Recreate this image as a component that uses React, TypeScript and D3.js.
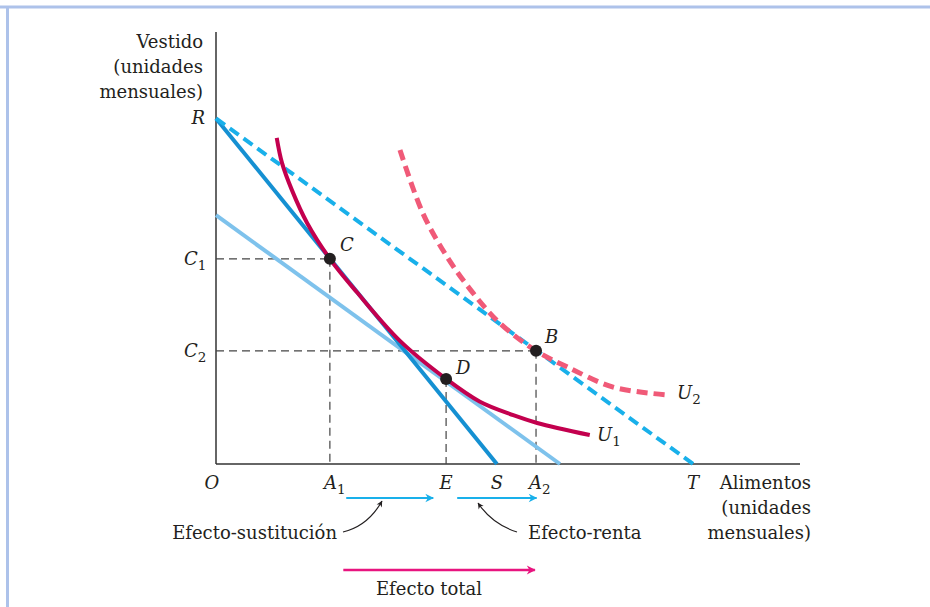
// @ts-nocheck
import React from "react";
import { scaleLinear, line, curveCatmullRom } from "d3";

// budget lines (x / y intercepts, food vs clothing units)
const interceptR = 80;
const interceptS = 48.1;
const interceptT = 81.7;
const lightLine = { y0: 57.6, x0: 58.9 };

// optimum points
const pointC = { x: 19.5, y: 47.5 };
const pointD = { x: 39.4, y: 19.7 };
const pointB = { x: 54.8, y: 26.2 };

// indifference curves
const curveU1 = [
  [10.4, 75.5], [11.3, 69.7], [13.0, 63.4], [15.6, 55.8], [19.5, 47.5],
  [24.1, 39.8], [31.5, 28.5], [39.4, 19.7], [45.2, 14.4], [50.9, 11.3],
  [55.0, 9.5], [64.0, 6.7],
];
const curveU2 = [
  [31.5, 72.7], [35.4, 58.1], [39.6, 47.9], [44.0, 39.6], [48.6, 32.6],
  [54.8, 26.2], [60.1, 22.5], [68.0, 17.8], [77.2, 16.0],
];

// effect arrows (x extents)
const subArrow = [22.3, 37.2];
const incArrow = [41.3, 54.9];
const totalArrow = [21.8, 54.6];

const W = 930;
const H = 607;
const serif = "'DejaVu Serif', serif";
const fs = 18;

export default function App() {
  const x = scaleLinear().domain([0, 100]).range([216, 800]);
  const y = scaleLinear().domain([0, 100]).range([464, 32]);
  const path = line()
    .x((d) => x(d[0]))
    .y((d) => y(d[1]))
    .curve(curveCatmullRom.alpha(0.5));

  const axisY = y(0);
  const italic = { fontFamily: serif, fontStyle: "italic", fontSize: fs, fill: "#231f20" };
  const roman = { fontFamily: serif, fontSize: fs, fill: "#231f20" };
  const sub = (t) => (
    <tspan fontStyle="normal" fontSize={13.5} dy={5}>{t}</tspan>
  );

  return (
    <svg width={W} height={H} style={{ position: "absolute", left: 0, top: 0, background: "#fff" }}>
      <defs>
        <marker id="blueHead" viewBox="0 0 10 10" refX={9} refY={5} markerWidth={5} markerHeight={5} orient="auto" markerUnits="userSpaceOnUse" style={{ overflow: "visible" }}>
          <path d="M0,0 L10,5 L0,10 L3,5 Z" fill="#19b0ea" transform="scale(1.7) translate(-4,-2)" />
        </marker>
        <marker id="pinkHead" viewBox="0 0 10 10" refX={9} refY={5} markerWidth={5} markerHeight={5} orient="auto" markerUnits="userSpaceOnUse" style={{ overflow: "visible" }}>
          <path d="M0,0 L10,5 L0,10 L3,5 Z" fill="#e8147f" transform="scale(1.8) translate(-4,-2.2)" />
        </marker>
        <marker id="blackHead" viewBox="0 0 10 10" refX={9} refY={5} markerWidth={5} markerHeight={5} orient="auto" markerUnits="userSpaceOnUse" style={{ overflow: "visible" }}>
          <path d="M0,0 L10,5 L0,10 L3,5 Z" fill="#231f20" transform="scale(1.2) translate(-2,-0.8)" />
        </marker>
      </defs>

      {/* frame */}
      <line x1={0} x2={W} y1={7} y2={7} stroke="#adc2ea" strokeWidth={3} />
      <line x1={7.5} x2={7.5} y1={6} y2={H} stroke="#adc2ea" strokeWidth={3} />

      {/* axes */}
      <line x1={x(0)} x2={x(0)} y1={y(100)} y2={axisY} stroke="#333" strokeWidth={1.5} />
      <line x1={x(0)} x2={x(100)} y1={axisY} y2={axisY} stroke="#333" strokeWidth={1.5} />

      {/* guide lines */}
      <g stroke="#444" strokeWidth={1.2} strokeDasharray="8,5" fill="none">
        <line x1={x(0)} x2={x(pointC.x)} y1={y(pointC.y)} y2={y(pointC.y)} />
        <line x1={x(pointC.x)} x2={x(pointC.x)} y1={y(pointC.y)} y2={axisY} />
        <line x1={x(0)} x2={x(pointB.x)} y1={y(pointB.y)} y2={y(pointB.y)} />
        <line x1={x(pointB.x)} x2={x(pointB.x)} y1={y(pointB.y)} y2={axisY} />
        <line x1={x(pointD.x)} x2={x(pointD.x)} y1={y(pointD.y)} y2={axisY} />
      </g>

      {/* budget lines */}
      <line x1={x(0)} y1={y(lightLine.y0)} x2={x(lightLine.x0)} y2={y(0)} stroke="#7ec2ec" strokeWidth={4} />
      <line x1={x(0)} y1={y(interceptR)} x2={x(interceptS)} y2={y(0)} stroke="#1590d2" strokeWidth={4} />
      <line x1={x(0)} y1={y(interceptR)} x2={x(interceptT)} y2={y(0)} stroke="#19b0ea" strokeWidth={4} strokeDasharray="11,6" />

      {/* indifference curves */}
      <path d={path(curveU2)} fill="none" stroke="#f05a78" strokeWidth={5} strokeDasharray="11,6" />
      <path d={path(curveU1)} fill="none" stroke="#c3004e" strokeWidth={4} />

      {/* points */}
      {[pointC, pointD, pointB].map((p, i) => (
        <circle key={i} cx={x(p.x)} cy={y(p.y)} r={6} fill="#231f20" />
      ))}

      {/* axis titles */}
      <g style={roman} textAnchor="end">
        <text x={203} y={48}>Vestido</text>
        <text x={203} y={73}>(unidades</text>
        <text x={203} y={98}>mensuales)</text>
        <text x={811} y={489}>Alimentos</text>
        <text x={811} y={514}>(unidades</text>
        <text x={811} y={539}>mensuales)</text>
      </g>

      {/* point labels */}
      <g style={italic}>
        <text x={205} y={124} textAnchor="end">R</text>
        <text x={184} y={265}>C{sub("1")}</text>
        <text x={184} y={357}>C{sub("2")}</text>
        <text x={212} y={489} textAnchor="middle">O</text>
        <text x={324} y={489}>A{sub("1")}</text>
        <text x={x(pointD.x)} y={489} textAnchor="middle">E</text>
        <text x={x(interceptS)} y={489} textAnchor="middle">S</text>
        <text x={529} y={489}>A{sub("2")}</text>
        <text x={x(interceptT)} y={489} textAnchor="middle">T</text>
        <text x={x(pointC.x) + 10} y={y(pointC.y) - 8}>C</text>
        <text x={x(pointD.x) + 10} y={y(pointD.y) - 5}>D</text>
        <text x={x(pointB.x) + 9} y={y(pointB.y) - 8}>B</text>
        <text x={597} y={441}>U{sub("1")}</text>
        <text x={677} y={399}>U{sub("2")}</text>
      </g>

      {/* effect arrows */}
      <line x1={x(subArrow[0])} x2={x(subArrow[1])} y1={498} y2={498} stroke="#19b0ea" strokeWidth={1.8} markerEnd="url(#blueHead)" />
      <line x1={x(incArrow[0])} x2={x(incArrow[1])} y1={498} y2={498} stroke="#19b0ea" strokeWidth={1.8} markerEnd="url(#blueHead)" />
      <line x1={x(totalArrow[0])} x2={x(totalArrow[1])} y1={570} y2={570} stroke="#e8147f" strokeWidth={2.5} markerEnd="url(#pinkHead)" />

      {/* pointers */}
      <path d="M343,532 Q368,526 382,501" fill="none" stroke="#231f20" strokeWidth={1.2} markerEnd="url(#blackHead)" />
      <path d="M517,532 Q492,524 478,503" fill="none" stroke="#231f20" strokeWidth={1.2} markerEnd="url(#blackHead)" />

      <g style={roman}>
        <text x={337} y={539} textAnchor="end">Efecto-sustitución</text>
        <text x={528} y={539}>Efecto-renta</text>
        <text x={429} y={595} textAnchor="middle">Efecto total</text>
      </g>
    </svg>
  );
}
